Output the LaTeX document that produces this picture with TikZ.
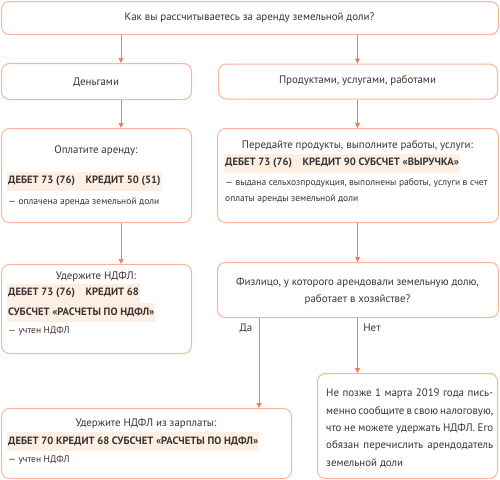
\documentclass[tikz,border=0pt]{standalone}
\usepackage{fontspec}
\setmainfont{PT Sans}
\usetikzlibrary{arrows.meta}
\definecolor{bord}{HTML}{F8B49C}
\definecolor{arrc}{HTML}{F47D57}
\definecolor{hl}{HTML}{FDEFE3}
\definecolor{txt}{HTML}{3B3432}
\begin{document}
\begin{tikzpicture}[x=1pt,y=-1pt,
  every node/.style={text=txt, font=\fontsize{10.9}{13}\selectfont},
  box/.style={draw=bord, line width=1pt, rounded corners=8pt, fill=white, anchor=north west, inner sep=0pt},
  arr/.style={draw=arrc, line width=0.9pt, -{Triangle[length=5pt,width=5pt]}},
  hlline/.style={fill=hl, anchor=west, inner xsep=1pt, inner ysep=0pt, minimum height=19pt, font=\fontsize{10.6}{12}\selectfont\bfseries},
  small/.style={anchor=west, inner sep=0pt, font=\fontsize{9.5}{11}\selectfont},
  lbl/.style={inner sep=0pt}
]
\useasboundingbox (0,0) rectangle (500,479);
% boxes
\node[box, minimum width=497pt, minimum height=33pt] (top) at (1,1) {};
\node[box, minimum width=190pt, minimum height=36pt] (dengi) at (1,63) {};
\node[box, minimum width=279pt, minimum height=35pt] (prod) at (218,63.5) {};
\node[box, minimum width=190pt, minimum height=94pt] (opl) at (1,128) {};
\node[box, minimum width=281pt, minimum height=94pt] (pered) at (217,128) {};
\node[box, minimum width=190pt, minimum height=89pt] (uderzh) at (1,264) {};
\node[box, minimum width=281pt, minimum height=55pt] (fiz) at (217,262) {};
\node[box, minimum width=290pt, minimum height=70pt] (zarp) at (1,408) {};
\node[box, minimum width=180pt, minimum height=105pt] (ne) at (317,373) {};
% arrow columns
\coordinate (la) at (121,0);
\coordinate (ra) at (357.5,0);
\coordinate (da) at (259,0);
\draw[arr] (top.south -| la) -- (dengi.north -| la);
\draw[arr] (top.south -| ra) -- (prod.north -| ra);
\draw[arr] (dengi.south -| la) -- (opl.north -| la);
\draw[arr] (prod.south -| ra) -- (pered.north -| ra);
\draw[arr] (opl.south -| la) -- (uderzh.north -| la);
\draw[arr] (pered.south -| ra) -- (fiz.north -| ra);
\draw[arr] (fiz.south -| da) -- (zarp.north -| da);
\draw[arr] (fiz.south -| ra) -- (ne.north -| ra);
\node[lbl] (yes) at (246,328) {Да};
\node[lbl] (no) at (372,328) {Нет};
% texts
\node[lbl] (t1) at (249.5,18) {Как вы рассчитываетесь за аренду земельной доли?};
\node[lbl] (t2) at (96,82) {Деньгами};
\node[lbl] (t3) at (357.5,81) {Продуктами, услугами, работами};
% opl
\node[lbl] (t4) at (96,151) {Оплатите аренду:};
\node[hlline] (t5) at (7,181) {ДЕБЕТ 73 (76)\quad КРЕДИТ 50 (51)};
\node[small] (t6) at (8,202) {— оплачена аренда земельной доли};
% pered
\node[lbl] (t7) at (357.5,146) {Передайте продукты, выполните работы, услуги:};
\node[hlline] (t8) at (224,163) {ДЕБЕТ 73 (76)\quad КРЕДИТ 90 СУБСЧЕТ «ВЫРУЧКА»};
\node[small] (t9) at (225,183) {— выдана сельхозпродукция, выполнены работы, услуги в счет};
\node[small] (t10) at (225,199) {оплаты аренды земельной доли};
% uderzh
\node[lbl] (t11) at (96,277) {Удержите НДФЛ:};
\node[hlline] (t12) at (7,293) {ДЕБЕТ 73 (76)\quad КРЕДИТ 68};
\node[hlline] (t13) at (7,312) {СУБСЧЕТ «РАСЧЕТЫ ПО НДФЛ»};
\node[small] (t14) at (8,331) {— учтен НДФЛ};
% fiz
\node[lbl] (t15) at (357.5,283) {Физлицо, у которого арендовали земельную долю,};
\node[lbl] (t16) at (357.5,300) {работает в хозяйстве?};
% zarp
\node[lbl] (t17) at (146,424) {Удержите НДФЛ из зарплаты:};
\node[hlline] (t18) at (7,441) {ДЕБЕТ 70 КРЕДИТ 68 СУБСЧЕТ «РАСЧЕТЫ ПО НДФЛ»};
\node[small] (t19) at (8,460) {— учтен НДФЛ};
% ne
\node[anchor=west, inner sep=0pt] (n1) at (326,394) {\makebox[167pt][s]{Не позже 1 марта 2019 года пись-}};
\node[anchor=west, inner sep=0pt] (n2) at (326,411.3) {\makebox[167pt][s]{менно сообщите в свою налоговую,}};
\node[anchor=west, inner sep=0pt] (n3) at (326,428.6) {\makebox[167pt][s]{что не можете удержать НДФЛ. Его}};
\node[anchor=west, inner sep=0pt] (n4) at (326,445.9) {\makebox[167pt][s]{обязан перечислить арендодатель}};
\node[anchor=west, inner sep=0pt] (n5) at (326,463.2) {земельной доли};
\end{tikzpicture}
\end{document}
